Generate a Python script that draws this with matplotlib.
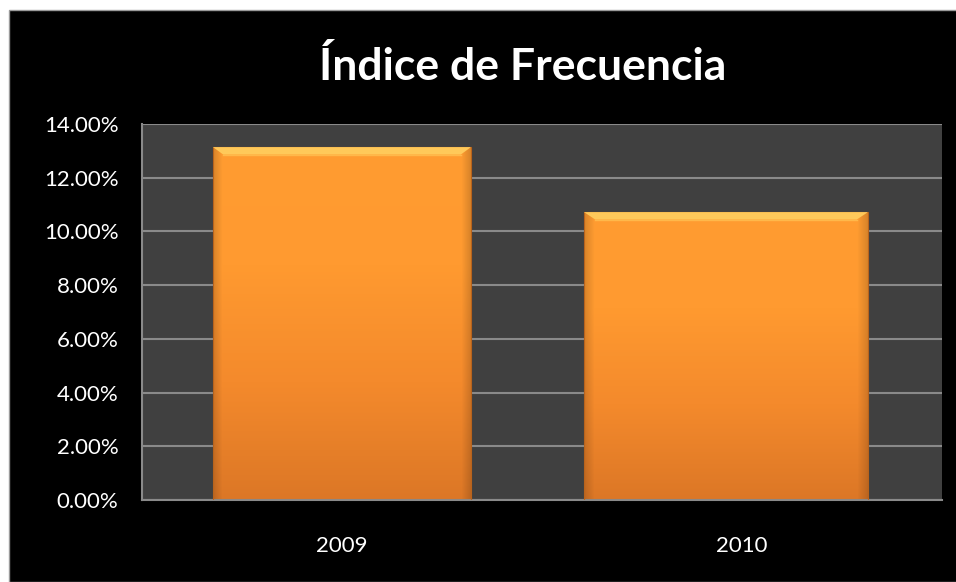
import numpy as np
import matplotlib.pyplot as plt
from matplotlib.patches import Rectangle, Polygon
from matplotlib.colors import LinearSegmentedColormap
from matplotlib.ticker import FuncFormatter

# datos
years = ['2009', '2010']
indice = [0.1314, 0.1072]
y_ticks = [0.00, 0.02, 0.04, 0.06, 0.08, 0.10, 0.12, 0.14]

plt.rcParams['font.family'] = ['Lato', 'DejaVu Sans']

fig = plt.figure(figsize=(9.56, 5.82), dpi=100)
fig.patch.set_facecolor('white')
# fondo negro del grafico (con borde blanco arriba/izquierda)
fig.patches.append(Rectangle((9 / 956, 0), 1, 1 - 10 / 582, transform=fig.transFigure,
                             facecolor='black', edgecolor='#9a9a9a', linewidth=1, zorder=-10))

ax = fig.add_axes([142 / 956, 1 - 500 / 582, 800 / 956, 376 / 582])
ax.set_zorder(1)
ax.set_facecolor('#404040')

x = np.arange(len(years))
widths = [0.645, 0.71]
offsets = [0.0, -0.04]
bars = ax.bar(x + np.array(offsets), indice, width=widths, color='none',
              edgecolor='#b8631c', linewidth=0.8, zorder=3)

cmap = LinearSegmentedColormap.from_list('naranja', ['#dc7726', '#f48a2c', '#ff9a30', '#ff9c31'])
grad = np.linspace(0, 1, 256).reshape(-1, 1)
side = np.concatenate([np.linspace(0.85, 1, 10), np.ones(236), np.linspace(1, 0.85, 10)])
for b in bars:
    x0, w, h = b.get_x(), b.get_width(), b.get_height()
    img = cmap(grad)[:, :, :3] * np.ones((256, 256, 1))
    img = img * side.reshape(1, -1, 1)
    im = ax.imshow(img, extent=(x0, x0 + w, 0, h), origin='lower', aspect='auto', zorder=2)
    im.set_clip_path(b)
    # bisel superior
    dh = 0.0028
    dw = w * 0.04
    ax.add_patch(Polygon([(x0, h), (x0 + w, h), (x0 + w - dw, h - dh), (x0 + dw, h - dh)],
                         closed=True, facecolor='#ffc95a', edgecolor='none', zorder=3))
    ax.plot([x0 + dw, x0 + w - dw], [h - dh, h - dh], color='#ffb84a', linewidth=1, zorder=3)

ax.set_xlim(-0.5, 1.5)
ax.set_ylim(0, 0.14)
ax.set_yticks(y_ticks)
ax.yaxis.set_major_formatter(FuncFormatter(lambda v, p: f'{v * 100:.2f}%'))
ax.set_xticks(x)
ax.set_xticklabels(years)
ax.grid(axis='y', color='#8a8a8a', linewidth=1.5, zorder=1)
ax.set_axisbelow(True)
for s in ['top', 'right']:
    ax.spines[s].set_visible(False)
for s in ['left', 'bottom']:
    ax.spines[s].set_color('#8a8a8a')
    ax.spines[s].set_linewidth(1.5)
ax.tick_params(axis='y', length=0, pad=17, labelsize=16, labelcolor='white')
ax.tick_params(axis='x', length=0, pad=26, labelsize=16, labelcolor='white')

fig.text(523 / 956, 1 - 67 / 582, 'Índice de Frecuencia', ha='center', va='center',
         color='white', fontsize=32, fontweight='bold')

plt.savefig('out.png', dpi=100, facecolor=fig.get_facecolor())
